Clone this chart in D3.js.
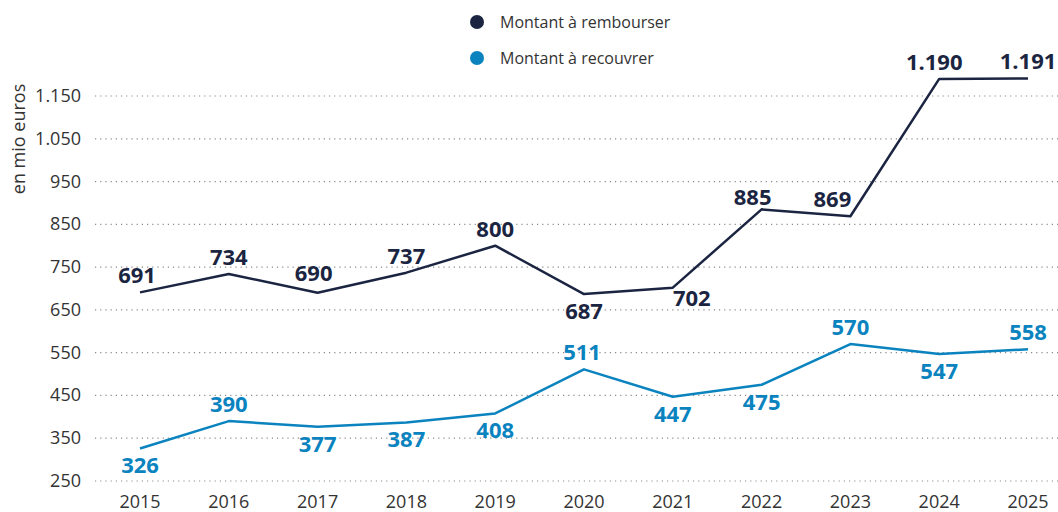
<!DOCTYPE html>
<html>
<head>
<meta charset="utf-8">
<script src="https://cdn.jsdelivr.net/npm/d3@7"></script>
<style>
  body { margin: 0; background: #fff; }
  text { font-family: "Open Sans", sans-serif; }
</style>
</head>
<body>
<svg id="chart" width="1058" height="512"></svg>
<script>
const years = [2015, 2016, 2017, 2018, 2019, 2020, 2021, 2022, 2023, 2024, 2025];
const rembourser = [691, 734, 690, 737, 800, 687, 702, 885, 869, 1190, 1191];
const recouvrer = [326, 390, 377, 387, 408, 511, 447, 475, 570, 547, 558];
const yTicks = [250, 350, 450, 550, 650, 750, 850, 950, 1050, 1150];
// label side per point: 1 = above, -1 = below
const sideRemb = [1, 1, 1, 1, 1, -1, -1, 1, 1, 1, 1];
const sideRec = [-1, 1, -1, -1, -1, 1, -1, -1, 1, -1, 1];

const seriesList = [
    {name: 'Montant à rembourser', values: rembourser, side: sideRemb, color: '#1b2541'},
    {name: 'Montant à recouvrer', values: recouvrer, side: sideRec, color: '#0a83bf'},
];

// hand nudges for labels that sit beside the line
const nudge = {
    'Montant à rembourser': {2015: [-3, 0], 2017: [-4, -3], 2021: [19, -7], 2022: [-9, 5], 2023: [-18, 0], 2024: [-5, 0]},
    'Montant à recouvrer': {2020: [-2, 0]},
};

const svg = d3.select('#chart');
const fmt = v => d3.format(',')(v).replace(/,/g, '.');

const x = d3.scalePoint().domain(years).range([140, 1028]);
const y = d3.scaleLinear().domain([250, 1150]).range([481, 96]);

// grid lines + y labels
const grid = svg.append('g');
grid.selectAll('line')
    .data(yTicks)
    .enter()
    .append('line')
    .attr('x1', 95)
    .attr('x2', 1058)
    .attr('y1', d => y(d))
    .attr('y2', d => y(d))
    .attr('stroke', '#8a8a8a')
    .attr('stroke-width', 1.2)
    .attr('stroke-dasharray', '1.2,4');

grid.selectAll('text')
    .data(yTicks)
    .enter()
    .append('text')
    .attr('x', 81)
    .attr('y', d => y(d) + 6)
    .attr('text-anchor', 'end')
    .attr('fill', '#333')
    .style('font-size', '18px')
    .text(d => fmt(d));

// x labels
svg.append('g')
    .selectAll('text')
    .data(years)
    .enter()
    .append('text')
    .attr('x', d => x(d))
    .attr('y', 508)
    .attr('text-anchor', 'middle')
    .attr('fill', '#333')
    .style('font-size', '18px')
    .text(d => d);

// axis title
svg.append('text')
    .attr('transform', 'translate(25,139) rotate(-90)')
    .attr('text-anchor', 'middle')
    .attr('fill', '#333')
    .style('font-size', '18px')
    .text('en mio euros');

const line = d3.line()
    .x(d => x(d.year))
    .y(d => y(d.v));

seriesList.forEach(s => {
    const pts = years.map((yr, i) => ({year: yr, v: s.values[i], side: s.side[i]}));
    const nd = d => nudge[s.name][d.year] || [0, 0];
    svg.append('path')
        .datum(pts)
        .attr('d', line)
        .attr('fill', 'none')
        .attr('stroke', s.color)
        .attr('stroke-width', 2.5)
        .attr('stroke-linejoin', 'round');

    svg.append('g')
        .selectAll('text')
        .data(pts)
        .enter()
        .append('text')
        .attr('x', d => x(d.year) + nd(d)[0])
        .attr('y', d => y(d.v) + (d.side > 0 ? -9 : 25) + nd(d)[1])
        .attr('text-anchor', 'middle')
        .attr('fill', s.color)
        .style('font-size', '22px')
        .style('font-weight', 'bold')
        .text(d => fmt(d.v));
});

// legend
const legend = svg.append('g')
    .selectAll('g')
    .data(seriesList)
    .enter()
    .append('g')
    .attr('transform', (d, i) => `translate(477,${22 + i * 36})`);

legend.append('circle')
    .attr('r', 7)
    .attr('fill', d => d.color);

legend.append('text')
    .attr('x', 23)
    .attr('y', 6)
    .attr('fill', '#333')
    .style('font-size', '16px')
    .text(d => d.name);
</script>
</body>
</html>
